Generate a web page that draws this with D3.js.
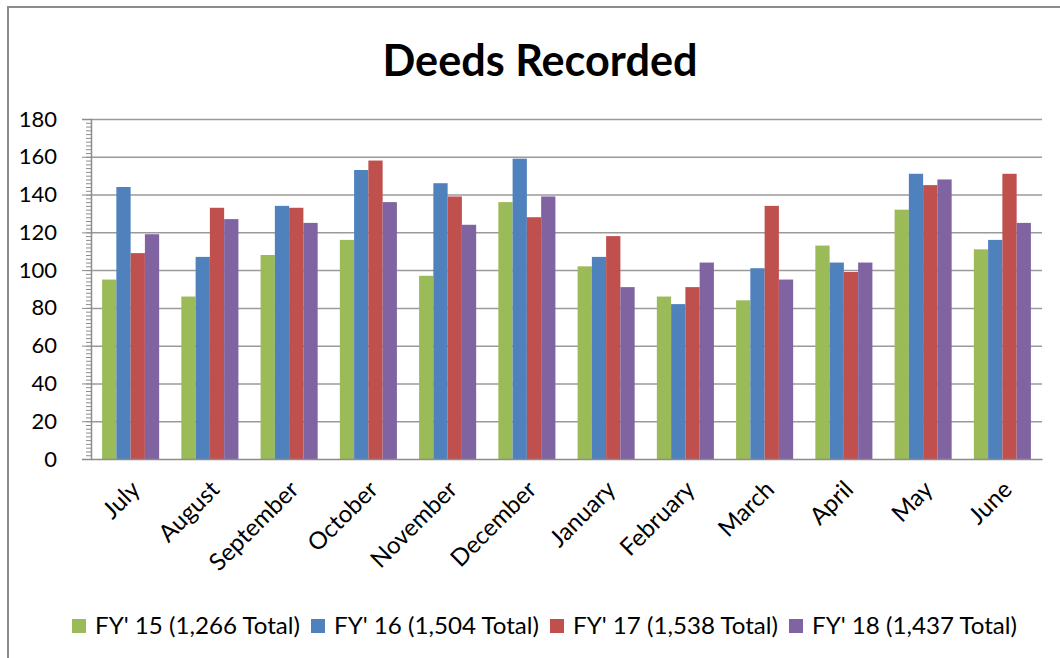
<!DOCTYPE html>
<html>
<head>
<meta charset="utf-8">
<script src="https://cdn.jsdelivr.net/npm/d3@7"></script>
<style>
  body { margin: 0; background: #fff; }
  text { font-family: Lato, 'Open Sans', sans-serif; fill: #000; }
</style>
</head>
<body>
<div id="chart"></div>
<script>
let months = ['July', 'August', 'September', 'October', 'November', 'December',
  'January', 'February', 'March', 'April', 'May', 'June']

let seriesNames = ['FY\' 15 (1,266 Total)', 'FY\' 16 (1,504 Total)', 'FY\' 17 (1,538 Total)', 'FY\' 18 (1,437 Total)']

let fy15 = [95, 86, 108, 116, 97, 136, 102, 86, 84, 113, 132, 111]
let fy16 = [144, 107, 134, 153, 146, 159, 107, 82, 101, 104, 151, 116]
let fy17 = [109, 133, 133, 158, 139, 128, 118, 91, 134, 99, 145, 151]
let fy18 = [119, 127, 125, 136, 124, 139, 91, 104, 95, 104, 148, 125]

let yTicks = [0, 20, 40, 60, 80, 100, 120, 140, 160, 180]

let colors = ['#9BBB59', '#4F81BD', '#C0504D', '#8064A2']

let allSeries = [fy15, fy16, fy17, fy18]

let margin = { top: 119, left: 91, right: 18, bottom: 199 }
let fullWidth = 1060
let fullHeight = 658
let width = fullWidth - margin.left - margin.right
let height = fullHeight - margin.top - margin.bottom

let root = d3
  .select('#chart')
  .append('svg')
  .attr('width', fullWidth)
  .attr('height', fullHeight)

// outer frame (cut off at right and bottom like the source)
root
  .append('rect')
  .attr('x', 8)
  .attr('y', 7)
  .attr('width', 1200)
  .attr('height', 800)
  .attr('fill', 'none')
  .attr('stroke', '#8c8c8c')
  .attr('stroke-width', 2)

root
  .append('text')
  .attr('x', 540)
  .attr('y', 76)
  .attr('text-anchor', 'middle')
  .attr('font-size', 43)
  .attr('font-weight', 'bold')
  .attr('textLength', 315)
  .attr('lengthAdjust', 'spacingAndGlyphs')
  .text('Deeds Recorded')

let svg = root
  .append('g')
  .attr('transform', 'translate(' + margin.left + ',' + margin.top + ')')

let xPositionScale = d3.scaleBand().domain(months).range([0, width]).padding(0)
let yPositionScale = d3.scaleLinear().domain([0, 180]).range([height, 0])

let gap = xPositionScale.bandwidth() * 0.14
let xInner = d3
  .scaleBand()
  .domain(d3.range(seriesNames.length))
  .range([gap, xPositionScale.bandwidth() - gap])

// gridlines
svg
  .append('g')
  .attr('class', 'grid')
  .call(
    d3
      .axisLeft(yPositionScale)
      .tickValues(yTicks.filter(d => d > 0))
      .tickSize(-width)
      .tickFormat('')
  )
  .call(g => g.select('.domain').remove())
  .selectAll('line')
  .attr('stroke', '#9a9a9a')
  .attr('stroke-width', 1.5)

// bars
let groups = svg
  .selectAll('.month')
  .data(months)
  .enter()
  .append('g')
  .attr('class', 'month')
  .attr('transform', d => 'translate(' + xPositionScale(d) + ',0)')

groups
  .selectAll('rect')
  .data((m, i) => allSeries.map((s, k) => ({ k: k, value: s[i] })))
  .enter()
  .append('rect')
  .attr('x', d => xInner(d.k))
  .attr('width', xInner.bandwidth())
  .attr('y', d => yPositionScale(d.value))
  .attr('height', d => height - yPositionScale(d.value))
  .attr('fill', d => colors[d.k])

// minor ticks
svg
  .append('g')
  .attr('class', 'axis minor')
  .call(
    d3
      .axisLeft(yPositionScale)
      .tickValues(d3.range(0, 181, 2))
      .tickSize(5)
      .tickFormat('')
  )
  .call(g => g.select('.domain').remove())
  .selectAll('line')
  .attr('stroke', '#8c8c8c')

// y axis
let yAxis = d3
  .axisLeft(yPositionScale)
  .tickValues(yTicks)
  .tickSize(9)
  .tickPadding(25)
svg
  .append('g')
  .attr('class', 'axis y-axis')
  .call(yAxis)
  .call(g => g.selectAll('line').attr('stroke', '#8c8c8c'))
  .call(g => g.select('.domain').attr('stroke', '#8c8c8c').attr('stroke-width', 1.5))
  .call(g => g.selectAll('text').attr('font-size', 22).attr('fill', '#000'))

// x axis
let xAxis = d3.axisBottom(xPositionScale).tickSize(0).tickSizeOuter(0)
svg
  .append('g')
  .attr('class', 'axis x-axis')
  .attr('transform', 'translate(0,' + height + ')')
  .call(xAxis)
  .call(g => g.select('.domain').attr('stroke', '#8c8c8c').attr('stroke-width', 1.5))
  .call(g =>
    g
      .selectAll('text')
      .attr('font-size', 24)
      .attr('fill', '#000')
      .attr('text-anchor', 'end')
      .attr('y', 0)
      .attr('dy', 0)
      .attr('transform', 'translate(11,32) rotate(-45)')
  )

// legend
let legend = root.append('g').attr('class', 'legend').attr('transform', 'translate(72,634)')
let lx = 0
seriesNames.forEach((name, i) => {
  let item = legend.append('g').attr('transform', 'translate(' + lx + ',0)')
  item
    .append('rect')
    .attr('x', 0)
    .attr('y', -15)
    .attr('width', 14)
    .attr('height', 14)
    .attr('fill', colors[i])
  item
    .append('text')
    .attr('x', 23)
    .attr('y', 0)
    .attr('font-size', 23)
    .attr('textLength', 205)
    .attr('lengthAdjust', 'spacingAndGlyphs')
    .text(name)
  lx += 239
})
</script>
</body>
</html>
